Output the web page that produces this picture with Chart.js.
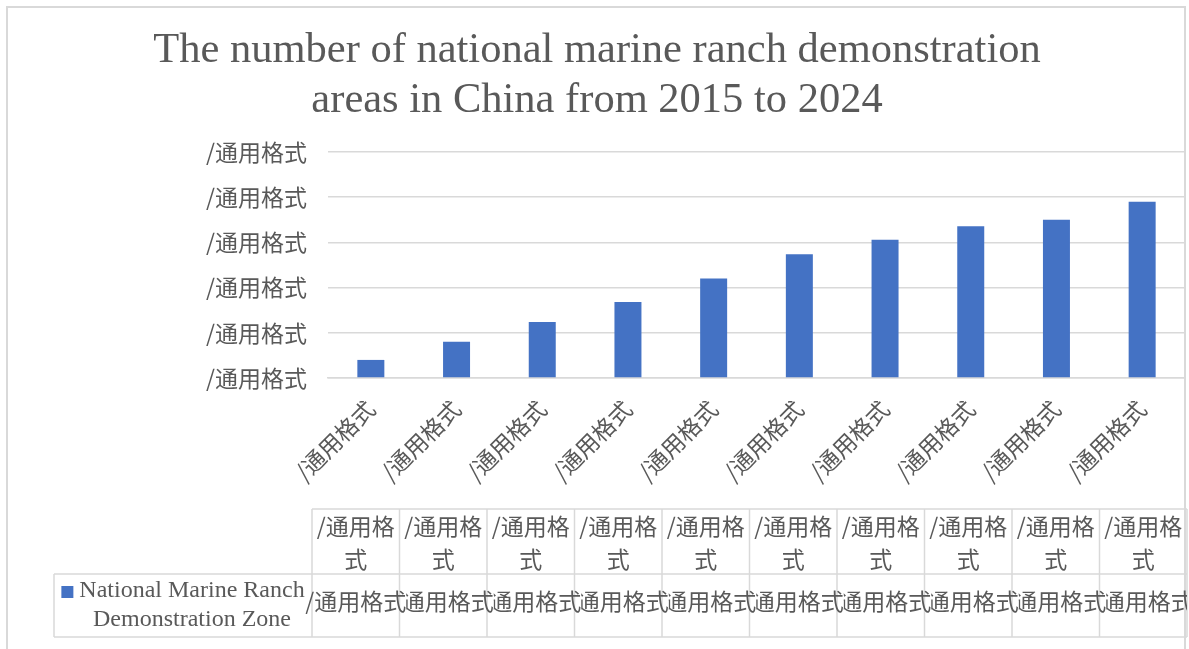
<!DOCTYPE html>
<html>
<head>
<meta charset="utf-8">
<script src="https://cdn.jsdelivr.net/npm/chart.js@4.4.1/dist/chart.umd.min.js"></script>
<style>
  html, body { margin: 0; padding: 0; background: #fff; }
  #wrap { position: relative; width: 1189px; height: 649px; }
</style>
</head>
<body>
<div id="wrap"><canvas id="chart" width="1189" height="649"></canvas></div>
<script>
// --- Data ---
const categories = ['2015', '2016', '2017', '2018', '2019', '2020', '2021', '2022', '2023', '2024'];
const zoneCounts = [20, 40, 62, 84, 110, 137, 153, 168, 175, 195];
const seriesName = ['National Marine Ranch', 'Demonstration Zone'];
const titleLines = ['The number of national marine ranch demonstration', 'areas in China from 2015 to 2024'];
// the source file had a broken number format, every label renders as this string
const brokenFormat = '/通用格式';

// --- Style ---
const GREY_TEXT = '#595959';
const GREY_LINE = '#d9d9d9';
const BAR_BLUE = '#4472c4';
const CJK_FONT = '"Noto Sans CJK SC", "Noto Sans", sans-serif';
const SERIF_FONT = '"Liberation Serif", "DejaVu Serif", serif';
const LABEL_SIZE = 23;
const PAD_LEFT = 9;

// table geometry (Excel data table under the plot)
const TABLE = { legendLeft: 54, colStart: 312, right: 1187, top: 509, mid: 574, bottom: 637 };

function wrapChars(ctx, text, maxW) {
    const lines = [];
    let cur = '';
    for (const ch of text) {
        if (cur && ctx.measureText(cur + ch).width > maxW) {
            lines.push(cur);
            cur = ch;
        } else {
            cur += ch;
        }
    }
    if (cur) lines.push(cur);
    return lines;
}

const tablePlugin = {
    id: 'dataTable',
    afterDraw(chart) {
        const ctx = chart.ctx;
        const n = categories.length;
        const colW = (TABLE.right - TABLE.colStart) / n;
        ctx.save();

        // chart frame
        ctx.strokeStyle = GREY_LINE;
        ctx.lineWidth = 2;
        ctx.strokeRect(7, 7, 1178, 700);

        // grid of the table
        ctx.lineWidth = 1.5;
        ctx.beginPath();
        ctx.moveTo(TABLE.colStart, TABLE.top); ctx.lineTo(TABLE.right, TABLE.top);
        ctx.moveTo(TABLE.legendLeft, TABLE.mid); ctx.lineTo(TABLE.right, TABLE.mid);
        ctx.moveTo(TABLE.legendLeft, TABLE.bottom); ctx.lineTo(TABLE.right, TABLE.bottom);
        ctx.moveTo(TABLE.legendLeft, TABLE.mid); ctx.lineTo(TABLE.legendLeft, TABLE.bottom);
        for (let i = 0; i <= n; i++) {
            const x = TABLE.colStart + i * colW;
            ctx.moveTo(x, TABLE.top); ctx.lineTo(x, TABLE.bottom);
        }
        ctx.stroke();

        // header cells (category labels, wrapped)
        ctx.fillStyle = GREY_TEXT;
        ctx.font = LABEL_SIZE + 'px ' + CJK_FONT;
        ctx.textAlign = 'center';
        ctx.textBaseline = 'middle';
        categories.forEach((c, i) => {
            const cx = TABLE.colStart + (i + 0.5) * colW;
            const lines = wrapChars(ctx, brokenFormat, colW - 4);
            lines.forEach((ln, k) => ctx.fillText(ln, cx, 526 + k * 33));
        });

        // value cells, text overflows its cell like in Excel
        ctx.save();
        ctx.beginPath();
        ctx.rect(0, TABLE.mid, TABLE.right, TABLE.bottom - TABLE.mid);
        ctx.clip();
        ctx.textAlign = 'left';
        const w = ctx.measureText(brokenFormat).width;
        let prevEnd = -Infinity;
        zoneCounts.forEach((v, i) => {
            const cx = TABLE.colStart + (i + 0.5) * colW;
            const x0 = cx - w / 2;
            ctx.save();
            ctx.beginPath();
            const clipL = Math.max(x0, prevEnd);
            ctx.rect(clipL, TABLE.mid, x0 + w - clipL + 2, TABLE.bottom - TABLE.mid);
            ctx.clip();
            ctx.fillText(brokenFormat, x0, 601);
            ctx.restore();
            prevEnd = x0 + w;
        });
        ctx.restore();

        // legend cell
        ctx.font = '24px ' + SERIF_FONT;
        ctx.textAlign = 'center';
        const legendCx = 192;
        ctx.fillText(seriesName[0], legendCx, 591);
        ctx.fillText(seriesName[1], legendCx, 620);
        const tw = ctx.measureText(seriesName[0]).width;
        ctx.fillStyle = BAR_BLUE;
        ctx.fillRect(legendCx - tw / 2 - 18, 586, 12, 12);

        ctx.restore();
    }
};

new Chart(document.getElementById('chart'), {
    type: 'bar',
    data: {
        labels: categories,
        datasets: [{
            label: seriesName.join(' '),
            data: zoneCounts,
            backgroundColor: BAR_BLUE,
            categoryPercentage: 1,
            barPercentage: 0.315
        }]
    },
    options: {
        responsive: false,
        animation: false,
        layout: { padding: { left: PAD_LEFT, right: 4, top: 0, bottom: 0 } },
        plugins: {
            legend: { display: false },
            tooltip: { enabled: false },
            title: {
                display: true,
                text: titleLines,
                color: GREY_TEXT,
                font: { family: SERIF_FONT, size: 42.5, weight: 'normal', lineHeight: 50 / 42.5 },
                padding: { top: 26, bottom: 26 }
            }
        },
        scales: {
            x: {
                grid: { display: false },
                border: { display: true, color: GREY_LINE, width: 1.5 },
                ticks: {
                    color: GREY_TEXT,
                    font: { family: CJK_FONT, size: LABEL_SIZE },
                    maxRotation: 45,
                    minRotation: 45,
                    padding: 9,
                    callback: () => brokenFormat
                },
                afterFit: (scale) => { scale.height = 649 - 378; }
            },
            y: {
                min: 0,
                max: 250,
                grid: { color: GREY_LINE, lineWidth: 1.5, drawTicks: false },
                border: { display: false },
                ticks: {
                    stepSize: 50,
                    color: GREY_TEXT,
                    font: { family: CJK_FONT, size: LABEL_SIZE },
                    padding: 21,
                    callback: () => brokenFormat
                },
                afterFit: (scale) => { scale.width = 328 - PAD_LEFT; }
            }
        }
    },
    plugins: [tablePlugin]
});
</script>
</body>
</html>
